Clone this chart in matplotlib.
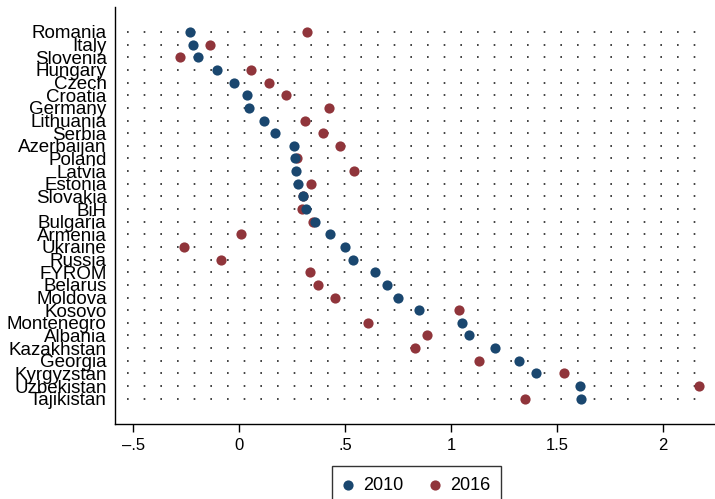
import matplotlib.pyplot as plt
import numpy as np

plt.rcParams["font.family"] = ["Liberation Sans", "DejaVu Sans"]

countries = ["Romania", "Italy", "Slovenia", "Hungary", "Czech", "Croatia",
             "Germany", "Lithuania", "Serbia", "Azerbaijan", "Poland", "Latvia",
             "Estonia", "Slovakia", "BiH", "Bulgaria", "Armenia", "Ukraine",
             "Russia", "FYROM", "Belarus", "Moldova", "Kosovo", "Montenegro",
             "Albania", "Kazakhstan", "Georgia", "Kyrgyzstan", "Uzbekistan",
             "Tajikistan"]
v2010 = [-0.232, -0.216, -0.194, -0.103, -0.023, 0.038, 0.044, 0.118, 0.168,
         0.256, 0.264, 0.266, 0.278, 0.300, 0.316, 0.358, 0.430, 0.499, 0.537,
         0.642, 0.695, 0.749, 0.846, 1.052, 1.085, 1.207, 1.320, 1.399, 1.606,
         1.611]
v2016 = [0.319, -0.136, -0.281, 0.057, 0.142, 0.220, 0.422, 0.311, 0.397,
         0.473, 0.273, 0.543, 0.338, 0.300, 0.297, 0.347, 0.007, -0.262,
         -0.084, 0.335, 0.371, 0.454, 1.038, 0.608, 0.884, 0.831, 1.133, 1.533,
         2.168, 1.347]
xticks = [-0.5, 0, 0.5, 1, 1.5, 2]
xticklabels = ["\u2013.5", "0", ".5", "1", "1.5", "2"]

navy = "#1a476f"
maroon = "#90353b"

fig = plt.figure(figsize=(7.15, 4.99), dpi=100)
ax = fig.add_axes([115/715, 1 - 424/499, 600/715, (424 - 6.7)/499])

y = np.arange(len(countries))
for yi in y:
    ax.axhline(yi, xmin=0.02, xmax=0.99, color="#222222", lw=1.2,
               linestyle=(0, (1, 9)), zorder=1)

r = ax.scatter(v2016, y, s=54, color=maroon, zorder=3, label="2016", linewidths=0)
b = ax.scatter(v2010, y, s=54, color=navy, zorder=4, label="2010", linewidths=0)

ax.set_xlim(-0.586, 2.244)
ax.set_ylim(31, -2)
ax.set_yticks(y)
ax.set_yticklabels(countries, fontsize=13.5)
ax.tick_params(axis="y", length=0, pad=6)
ax.set_xticks(xticks)
ax.set_xticklabels(xticklabels, fontsize=12)
ax.tick_params(axis="x", length=6, width=1, pad=4)
ax.spines["top"].set_visible(False)
ax.spines["right"].set_visible(False)
ax.spines["left"].set_linewidth(1)
ax.spines["bottom"].set_linewidth(1)

leg = fig.legend(handles=[b, r], labels=["2010", "2016"], ncol=2,
                 loc="upper center", bbox_to_anchor=(416.5/715, 1 - 466/499),
                 fontsize=13, frameon=True, fancybox=False, edgecolor="black",
                 handlelength=0.6, handletextpad=0.5, columnspacing=1.5,
                 borderpad=0.6, borderaxespad=0)
leg.get_frame().set_linewidth(1)

fig.savefig("out.png", dpi=100)
